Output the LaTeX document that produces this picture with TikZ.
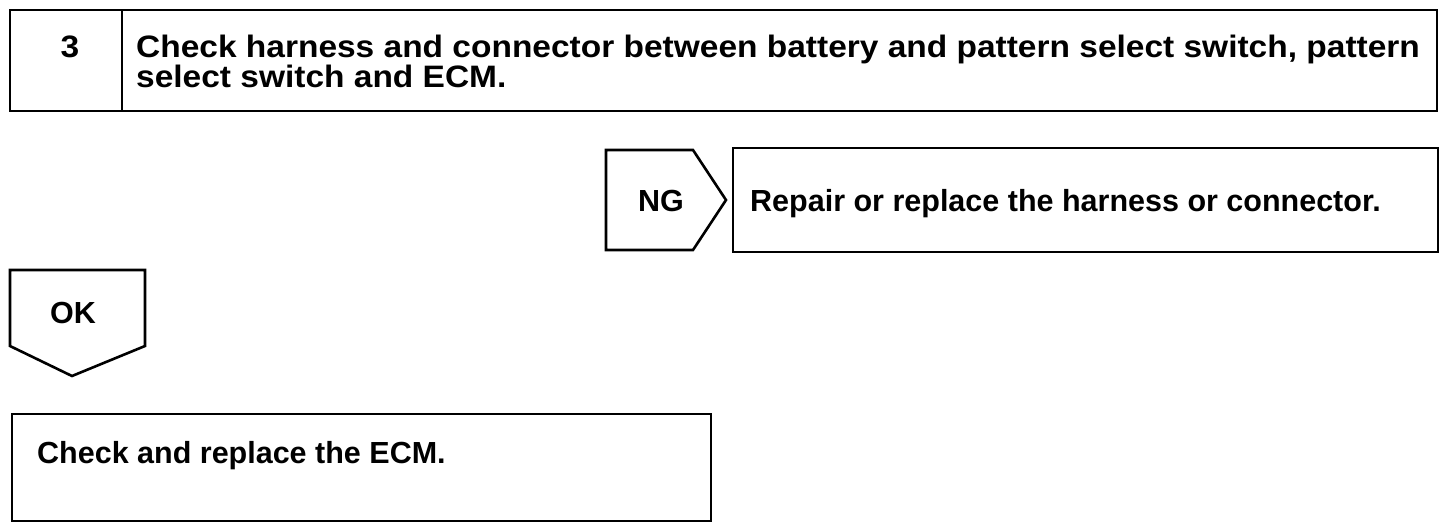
\documentclass[tikz,border=0pt]{standalone}
\usepackage{fontspec}
\setmainfont{Liberation Sans}
\begin{document}
\begin{tikzpicture}[x=1pt,y=-1pt,
  frame/.style={draw=black,line width=2.6pt,line join=miter},
  lbl/.style={font=\bfseries\fontsize{30.5}{26}\selectfont,inner sep=0pt},
  ttl/.style={font=\bfseries\fontsize{31}{26}\selectfont\addfontfeatures{FakeStretch=1.08},inner sep=0pt}]
\useasboundingbox (0,0) rectangle (1456,528);
% top box
\draw[frame] (10,10) rectangle (1437,111);
\draw[frame] (122,10) -- (122,111);
\node[ttl,anchor=base] (num) at (70,57) {3};
\node[ttl,anchor=west,align=left] (title) at (136,61.5) {Check harness and connector between battery and pattern select switch, pattern\\select switch and ECM.};
% NG
\draw[frame] (606,150) -- (693,150) -- (726,200) -- (693,250) -- (606,250) -- cycle;
\node[lbl,anchor=base] (ng) at (661,211) {NG};
\draw[frame] (733,148) rectangle (1438,252);
\node[lbl,anchor=base west] (repair) at (750,211) {Repair or replace the harness or connector.};
% OK
\draw[frame] (10,270) -- (145,270) -- (145,346) -- (72,376) -- (10,346) -- cycle;
\node[lbl,anchor=base] (ok) at (73,323) {OK};
% bottom box
\draw[frame] (12,414) rectangle (711,521);
\node[lbl,anchor=base west] (ecm) at (37,463) {Check and replace the ECM.};
\end{tikzpicture}
\end{document}
